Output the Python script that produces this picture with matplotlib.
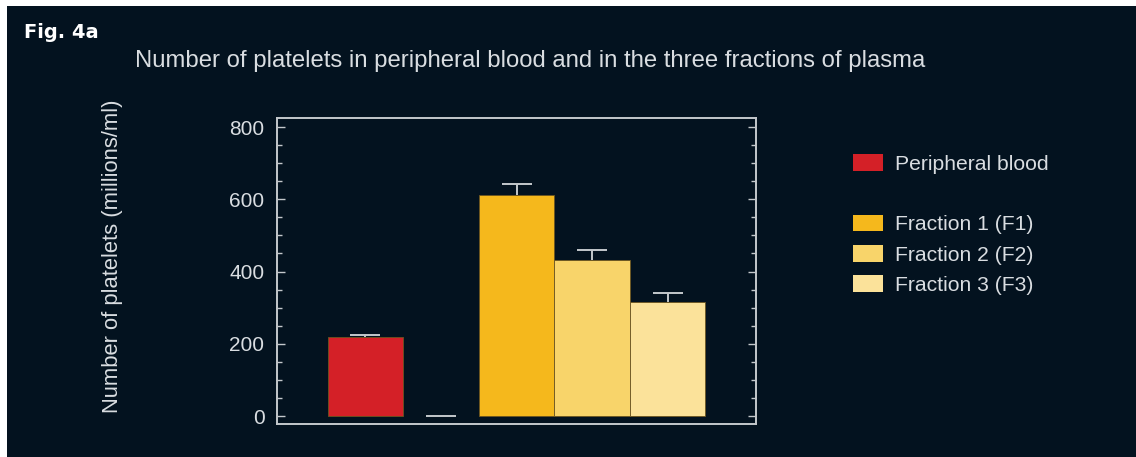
import matplotlib
matplotlib.use("Agg")
import matplotlib.pyplot as plt
import numpy as np
from matplotlib.patches import Patch, Rectangle

# ---- data ----
categories = ["Peripheral blood", "", "Fraction 1 (F1)", "Fraction 2 (F2)", "Fraction 3 (F3)"]
values = [219, 0, 612, 432, 316]
errors_up = [5, 0, 30, 28, 25]
colors = ["#d42027", "#d42027", "#f5b81c", "#f8d46a", "#fbe29a"]
yticks = [0, 200, 400, 600, 800]
title = "Number of platelets in peripheral blood and in the three fractions of plasma"
ylabel = "Number of platelets (millions/ml)"
figlabel = "Fig. 4a"

BG = "#03121f"
FG = "#d9dde1"
SP = "#c4c8cc"

plt.rcParams["font.family"] = ["Liberation Sans", "DejaVu Sans"]

W, H = 1136, 457
fig = plt.figure(figsize=(W / 100, H / 100), dpi=100, facecolor=BG)
# white border strips at top and left
fig.patches.append(Rectangle((0, 1 - 6 / H), 1, 6 / H, transform=fig.transFigure,
                             facecolor="white", edgecolor="none", zorder=-5))
fig.patches.append(Rectangle((0, 0), 7 / W, 1, transform=fig.transFigure,
                             facecolor="white", edgecolor="none", zorder=-5))

ax = fig.add_axes([277 / W, 1 - 424 / H, (756 - 277) / W, (424 - 118) / H])
ax.set_facecolor(BG)

x = list(range(len(values)))
lws = [0.6 if v > 0 else 0 for v in values]
ax.bar(x, values, width=1.0, color=colors, edgecolor="#6b5420", linewidth=lws, zorder=2)
eb = ax.errorbar(x, values, yerr=[[0] * len(values), errors_up], fmt="none",
                 ecolor=SP, elinewidth=1.4, capsize=10.8, capthick=1.4, zorder=1)
# hide the lower caps (they sit on the bar tops)
for cap in eb[1]:
    if np.allclose(np.asarray(cap.get_ydata(), float), np.asarray(values, float)):
        cap.set_visible(False)

ax.set_xlim(-1.17, 5.17)
ax.set_ylim(-22, 825)
ax.set_xticks([])
ax.set_yticks(yticks)
ax.set_yticks(range(0, 801, 50), minor=True)
ax.tick_params(axis="y", which="both", direction="in", left=True, right=True,
               color=SP, labelcolor=FG, labelsize=15, pad=9)
ax.tick_params(axis="y", which="major", length=6, width=1.0)
ax.tick_params(axis="y", which="minor", length=3.5, width=1.0)
for s in ax.spines.values():
    s.set_color(SP)
    s.set_linewidth(1.4)

fig.text(113 / W, 1 - 256 / H, ylabel, rotation=90, ha="center", va="center",
         color=FG, fontsize=15.8)
fig.text(530 / W, 1 - 61 / H, title, ha="center", va="center", color=FG, fontsize=17.2)
fig.text(24 / W, 1 - 32 / H, figlabel, ha="left", va="center", color="white",
         fontsize=14, fontweight="bold", family=["DejaVu Sans"])

handles = [Patch(facecolor=colors[0]), Patch(facecolor="none", edgecolor="none"),
           Patch(facecolor=colors[2]), Patch(facecolor=colors[3]), Patch(facecolor=colors[4])]
leg = fig.legend(handles, categories, loc="upper left",
                 bbox_to_anchor=(853 / W, 1 - 154 / H), frameon=False, fontsize=15.2,
                 labelcolor=FG, handlelength=1.4, handleheight=0.85,
                 handletextpad=0.6, labelspacing=0.5, borderaxespad=0, borderpad=0)

fig.savefig("out.png", dpi=100, facecolor=fig.get_facecolor())
